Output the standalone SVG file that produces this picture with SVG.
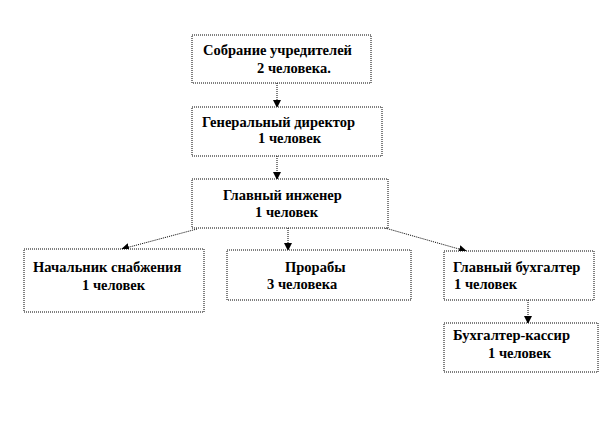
<svg xmlns="http://www.w3.org/2000/svg" width="612" height="425" viewBox="0 0 612 425">
<defs>
<marker id="ah" markerWidth="8" markerHeight="8" refX="7" refY="4" orient="auto" markerUnits="userSpaceOnUse">
<path d="M0,0 L8,4 L0,8 Z" fill="#000"/>
</marker>
<style>
.box{fill:#fff;stroke:#000;stroke-width:1;stroke-dasharray:1 1}
.t{font-family:"Liberation Serif","Times New Roman","DejaVu Serif",serif;font-weight:bold;font-size:14.5px;fill:#000}
.c{fill:none;stroke:#000;stroke-width:1;stroke-dasharray:1 1;marker-end:url(#ah)}
</style>
</defs>
<rect width="612" height="425" fill="#fff"/>
<g id="connectors">
<line class="c" x1="277" y1="83" x2="277" y2="107"/>
<line class="c" x1="277" y1="156" x2="277" y2="179"/>
<line class="c" x1="197" y1="229" x2="122" y2="249"/>
<line class="c" x1="288" y1="228" x2="288" y2="250"/>
<line class="c" x1="385" y1="228" x2="466" y2="251"/>
<line class="c" x1="528" y1="300" x2="528" y2="323"/>
</g>
<g id="n1">
<rect class="box" x="192" y="35" width="179" height="48"/>
<text class="t" x="203" y="55">Собрание учредителей</text>
<text class="t" x="257" y="73">2 человека.</text>
</g>
<g id="n2">
<rect class="box" x="192" y="107" width="190" height="49"/>
<text class="t" x="202" y="127">Генеральный директор</text>
<text class="t" x="258" y="143">1 человек</text>
</g>
<g id="n3">
<rect class="box" x="192" y="179" width="196" height="49"/>
<text class="t" x="223" y="200">Главный инженер</text>
<text class="t" x="255" y="217">1 человек</text>
</g>
<g id="n4">
<rect class="box" x="24" y="249" width="180" height="63"/>
<text class="t" x="33" y="272">Начальник снабжения</text>
<text class="t" x="82" y="290">1 человек</text>
</g>
<g id="n5">
<rect class="box" x="227" y="250" width="184" height="50"/>
<text class="t" x="285" y="272">Прорабы</text>
<text class="t" x="267" y="289">3 человека</text>
</g>
<g id="n6">
<rect class="box" x="444" y="251" width="150" height="49"/>
<text class="t" x="453" y="272">Главный бухгалтер</text>
<text class="t" x="454" y="289">1 человек</text>
</g>
<g id="n7">
<rect class="box" x="444" y="323" width="154" height="49"/>
<text class="t" x="453" y="340">Бухгалтер-кассир</text>
<text class="t" x="488" y="358">1 человек</text>
</g>
</svg>
